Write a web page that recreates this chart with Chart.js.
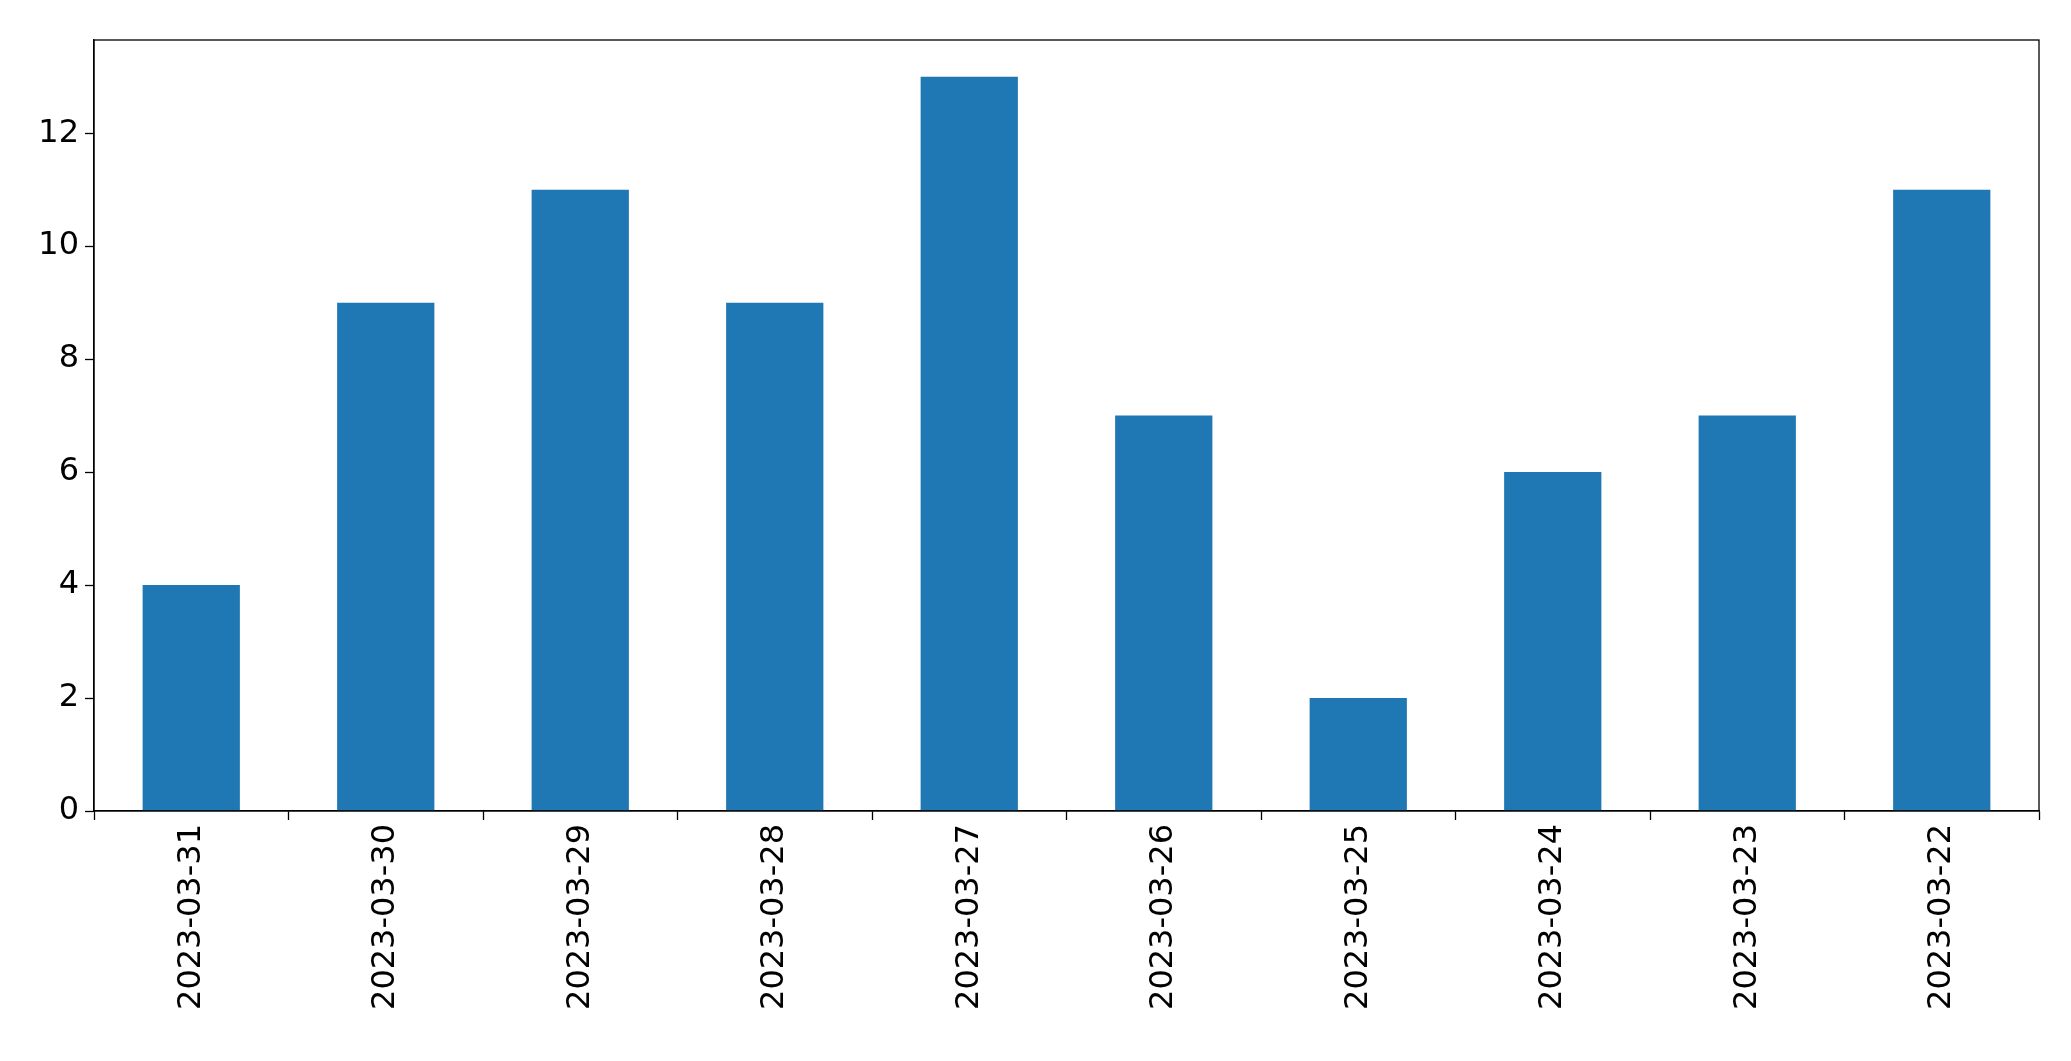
<!DOCTYPE html>
<html>
<head>
<meta charset="utf-8">
<script src="https://cdn.jsdelivr.net/npm/chart.js@4"></script>
<style>
  html, body { margin: 0; padding: 0; background: #fff; }
  #wrap { width: 2071px; height: 1061px; }
</style>
</head>
<body>
<div id="wrap"><canvas id="chart"></canvas></div>
<script>
// Data
const dates = ['2023-03-31', '2023-03-30', '2023-03-29', '2023-03-28', '2023-03-27',
               '2023-03-26', '2023-03-25', '2023-03-24', '2023-03-23', '2023-03-22'];
const counts = [4, 9, 11, 9, 13, 7, 2, 6, 7, 11];
const yTicks = [0, 2, 4, 6, 8, 10, 12];

// draw the box around the plot area
const frame = {
    id: 'frame',
    afterDraw(chart) {
        const a = chart.chartArea, ctx = chart.ctx;
        ctx.save();
        ctx.strokeStyle = '#000';
        ctx.lineWidth = 1.3;
        ctx.strokeRect(a.left, a.top, a.right - a.left, a.bottom - a.top);
        ctx.restore();
    }
};

new Chart(document.getElementById('chart'), {
    type: 'bar',
    data: {
        labels: dates,
        datasets: [{
            data: counts,
            backgroundColor: '#1f77b4',
            categoryPercentage: 1.0,
            barPercentage: 0.5
        }]
    },
    options: {
        responsive: true,
        maintainAspectRatio: false,
        animation: false,
        layout: { padding: { top: 40, right: 32, left: 0, bottom: 0 } },
        plugins: { legend: { display: false }, tooltip: { enabled: false } },
        scales: {
            x: {
                grid: { drawOnChartArea: false, color: '#000', tickLength: 9, tickWidth: 1.3 },
                border: { color: '#000', width: 1.3 },
                ticks: {
                    color: '#000', maxRotation: 90, minRotation: 90, padding: 4,
                    font: { family: 'DejaVu Sans', size: 32 }
                },
                afterFit(scale) { scale.height = 250; }
            },
            y: {
                min: 0, max: 13.65,
                afterBuildTicks(scale) { scale.ticks = yTicks.map(v => ({ value: v })); },
                grid: { drawOnChartArea: false, color: '#000', tickLength: 9, tickWidth: 1.3 },
                border: { color: '#000', width: 1.3 },
                ticks: {
                    color: '#000', padding: 6,
                    font: { family: 'DejaVu Sans', size: 32 }
                },
                afterFit(scale) { scale.width = 94; }
            }
        }
    },
    plugins: [frame]
});
</script>
</body>
</html>
